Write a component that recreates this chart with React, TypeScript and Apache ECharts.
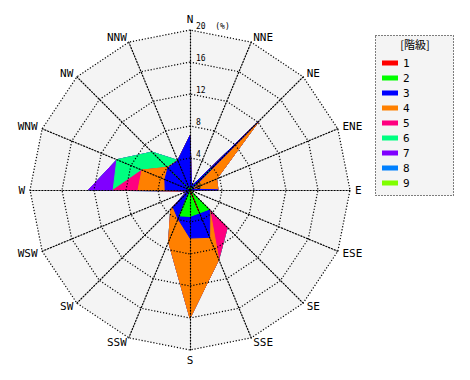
import React, { useEffect, useRef } from 'react';
import * as echarts from 'echarts';

const directions = ['N', 'NNE', 'NE', 'ENE', 'E', 'ESE', 'SE', 'SSE', 'S', 'SSW', 'SW', 'WSW', 'W', 'WNW', 'NW', 'NNW'];
const classNames = ['1', '2', '3', '4', '5', '6', '7', '8', '9'];
const classColors = ['#ff0000', '#00ff00', '#0000ff', '#ff8000', '#ff0080', '#00ff80', '#8000ff', '#0080ff', '#80ff00'];

// frequency (%) of each class per direction, order as in `directions`
const class1 = [0, 0, 0, 0, 0, 0, 0, 2.9, 0, 0, 0, 0, 0, 0, 0, 0];
const class2 = [0.3, 0, 4.2, 0, 0, 0, 3.4, 0.2, 3.3, 3.5, 0, 0, 0, 0, 3.0, 0];
const class3 = [6.5, 0.5, 8.0, 0.3, 3.5, 0, 0.1, 3.3, 2.7, 0.4, 3.0, 0.4, 3.1, 3.4, 0.9, 4.0];
const class4 = [0, 0, 0, 3.3, 0, 0, 0, 3.0, 10.0, 3.1, 0.4, 0, 3.4, 3.1, 0.1, 0];
const class5 = [0, 0, 0, 0, 0, 0, 3.1, 0, 0, 0, 0, 0, 3.1, 0, 0, 0];
const class6 = [0, 0, 0, 0, 0, 0, 0, 0, 0, 0, 0, 0, 0, 3.4, 2.7, 0];
const class7 = [0, 0, 0, 0, 0, 0, 0, 0, 0, 0, 0, 0, 3.1, 0, 0, 0];
const class8 = [0, 0, 0, 0, 0, 0, 0, 0, 0, 0, 0, 0, 0, 0, 0, 0];
const class9 = [0, 0, 0, 0, 0, 0, 0, 0, 0, 0, 0, 0, 0, 0, 0, 0];

const radialMax = 20;
const radialInterval = 4;
const unitLabel = '(%)';
const legendTitle = '[階級]';

const CX = 190;
const CY = 190;
const R = 160;

export default function App() {
  const ref = useRef<HTMLDivElement>(null);
  useEffect(() => {
    if (!ref.current) return;
    const chart = echarts.init(ref.current, null, { renderer: 'svg' });
    const classes = [class1, class2, class3, class4, class5, class6, class7, class8, class9];
    // cumulative (stacked) values
    const cum: number[][] = [];
    classes.forEach((c, k) => {
      cum.push(c.map((v, i) => (k === 0 ? v : cum[k - 1][i] + v)));
    });
    // ECharts radar runs counter-clockwise; reorder to run clockwise
    const order = directions.map((_, p) => (directions.length - p) % directions.length);
    const indicator = order.map((i) => ({ name: directions[i], min: 0, max: radialMax }));

    const series: any[] = [];
    for (let k = classes.length - 1; k >= 0; k--) {
      series.push({
        type: 'radar',
        name: classNames[k],
        radarIndex: 0,
        z: 2,
        symbol: 'none',
        silent: true,
        itemStyle: { color: classColors[k] },
        lineStyle: { width: 1, color: classColors[k] },
        areaStyle: { color: classColors[k], opacity: 1 },
        data: [{ value: order.map((i) => Math.round(cum[k][i] * 100) / 100), name: classNames[k] }],
      });
    }

    const mono = 'DejaVu Sans Mono';
    const baseRadar = {
      center: [CX, CY],
      radius: R,
      startAngle: 90,
      splitNumber: radialMax / radialInterval,
      shape: 'polygon',
      indicator,
    };
    const gridLine = { color: '#000', width: 1.2, type: [1.2, 1.8] };

    chart.setOption({
      animation: false,
      backgroundColor: '#ffffff',
      radar: [
        {
          ...baseRadar,
          z: 0,
          nameGap: 5,
          axisName: { color: '#000', fontSize: 11, fontFamily: mono },
          splitArea: { show: true, areaStyle: { color: ['#f4f4f4'] } },
          splitLine: { show: false },
          axisLine: { show: false },
          axisTick: { show: false },
          axisLabel: { show: false },
        },
        {
          ...baseRadar,
          z: 5,
          axisName: { show: false },
          splitArea: { show: false },
          splitLine: { show: true, lineStyle: gridLine },
          axisLine: { show: true, lineStyle: gridLine },
          axisTick: { show: false },
          axisLabel: { show: false },
        },
      ],
      polar: { center: [CX, CY], radius: R },
      angleAxis: { show: false, startAngle: 90, min: 0, max: 360 },
      radiusAxis: {
        min: 0,
        max: radialMax,
        interval: radialInterval,
        z: 6,
        axisLine: { show: false },
        axisTick: { show: false },
        splitLine: { show: false },
        axisLabel: {
          show: true,
          color: '#000',
          fontSize: 8,
          fontFamily: mono,
          margin: -6,
          align: 'left',
          verticalAlign: 'bottom',
          formatter: (v: number) => (v === radialMax ? `${v}  ${unitLabel}` : String(v)),
        },
      },
      legend: {
        orient: 'vertical',
        left: 377,
        top: 52,
        icon: 'rect',
        itemWidth: 16,
        itemHeight: 5,
        itemGap: 3,
        data: classNames,
        selectedMode: false,
        textStyle: { color: '#000', fontSize: 11, fontFamily: mono, lineHeight: 12 },
      },
      graphic: [
        {
          type: 'rect',
          z: -1,
          shape: { x: 375.5, y: 35.5, width: 78, height: 160 },
          style: { fill: '#f4f4f4', stroke: '#000', lineWidth: 1, lineDash: [1, 2] },
        },
        {
          type: 'text',
          x: 415,
          y: 44,
          style: {
            text: legendTitle,
            fill: '#000',
            font: '11px "Noto Sans CJK JP"',
            textAlign: 'center',
            textVerticalAlign: 'middle',
          },
        },
      ],
      series,
    });
    return () => chart.dispose();
  }, []);
  return <div ref={ref} style={{ position: 'fixed', left: 0, top: 0, width: 470, height: 380 }} />;
}
